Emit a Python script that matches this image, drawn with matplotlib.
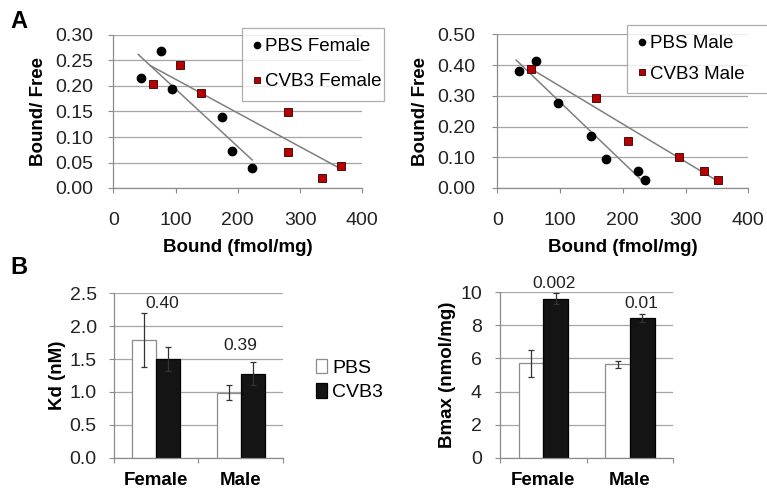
import numpy as np
import matplotlib
matplotlib.use("Agg")
import matplotlib.pyplot as plt

plt.rcParams['font.family'] = ['Liberation Sans', 'DejaVu Sans']

# Scatchard data
pbs_f_x = [44, 77, 95, 175, 191, 223]
pbs_f_y = [0.216, 0.269, 0.195, 0.140, 0.073, 0.040]
cvb3_f_x = [63, 107, 141, 281, 281, 336, 365]
cvb3_f_y = [0.203, 0.242, 0.187, 0.149, 0.070, 0.020, 0.043]
pbs_m_x = [34, 61, 97, 150, 174, 225, 235]
pbs_m_y = [0.380, 0.414, 0.278, 0.168, 0.095, 0.056, 0.026]
cvb3_m_x = [54, 158, 208, 289, 330, 352]
cvb3_m_y = [0.388, 0.292, 0.152, 0.101, 0.054, 0.027]

# bar data
groups = ['Female', 'Male']
kd_pbs = [1.79, 0.99]
kd_pbs_err = [0.41, 0.11]
kd_cvb3 = [1.50, 1.28]
kd_cvb3_err = [0.18, 0.17]
bmax_pbs = [5.70, 5.65]
bmax_pbs_err = [0.80, 0.22]
bmax_cvb3 = [9.62, 8.43]
bmax_cvb3_err = [0.32, 0.24]
kd_p = ['0.40', '0.39']
bmax_p = ['0.002', '0.01']

W, H = 767, 491
fig = plt.figure(figsize=(W / 100, H / 100), dpi=100)
fig.patch.set_facecolor('white')

GRID = '#a6a6a6'
AXC = '#8c8c8c'
RED = '#b80000'


def px_axes(l, t, r, b):
    return fig.add_axes([l / W, 1 - b / H, (r - l) / W, (b - t) / H])


def style(ax):
    for s in ['top', 'right']:
        ax.spines[s].set_visible(False)
    for s in ['left', 'bottom']:
        ax.spines[s].set_color(AXC)
        ax.spines[s].set_linewidth(0.9)
    ax.yaxis.grid(True, color=GRID, lw=0.9)
    ax.set_axisbelow(True)
    ax.tick_params(colors=AXC, labelcolor='#222222', labelsize=14, length=3.6)


def fit_line(ax, x, y):
    x = np.asarray(x, float)
    k, b = np.polyfit(x, y, 1)
    xx = np.array([x.min() - 4, x.max()])
    ax.plot(xx, k * xx + b, color='#7f7f7f', lw=1.1, zorder=2)


def scatter_panel(ax, px, py, cx, cy, ymax, ystep, labels, leg_box, spacing):
    style(ax)
    fit_line(ax, px, py)
    fit_line(ax, cx, cy)
    ax.plot(px, py, 'o', color='black', ms=6, zorder=3, label=labels[0])
    ax.plot(cx, cy, 's', color=RED, mec='#300000', mew=0.6, ms=6, zorder=3, label=labels[1])
    ax.set_xlim(0, 400)
    ax.set_ylim(0, ymax)
    ax.set_xticks(range(0, 401, 100))
    ax.set_yticks(np.round(np.arange(0, ymax + 1e-9, ystep), 2))
    ax.yaxis.set_major_formatter(plt.FormatStrFormatter('%.2f'))
    ax.tick_params(axis='x', pad=14)
    ax.tick_params(axis='y', pad=10.5)
    ax.set_xlabel('Bound (fmol/mg)', fontsize=13.5, fontweight='bold', labelpad=7)
    ax.set_ylabel('Bound/ Free', fontsize=13.5, fontweight='bold', labelpad=6)
    l, t, r, b = leg_box
    leg = ax.legend(loc='upper left', bbox_to_anchor=(l / W, 1 - t / H, (r - l) / W, 0),
                    bbox_transform=fig.transFigure, mode='expand', fontsize=13.5,
                    frameon=True, fancybox=False, borderaxespad=0, handlelength=0.5,
                    handletextpad=0.2, labelspacing=spacing, borderpad=0.55,
                    markerscale=0.75)
    leg.get_frame().set_edgecolor('#9a9a9a')
    leg.get_frame().set_linewidth(0.9)


def bar_panel(ax, pbs, pbs_err, cvb, cvb_err, pvals, ymax, ystep, fmt, ylabel, ptext_y, ptext_dx):
    style(ax)
    x = np.arange(len(groups))
    w = 0.286
    ax.bar(x - w / 2, pbs, w, color='white', edgecolor='#8c8c8c', lw=0.9, zorder=2, label='PBS')
    ax.bar(x + w / 2, cvb, w, color='#141414', edgecolor='black', lw=0.9, zorder=2, label='CVB3')
    ax.errorbar(x - w / 2, pbs, yerr=pbs_err, fmt='none', ecolor='#333333', elinewidth=0.9,
                capsize=2.2, capthick=0.9, zorder=3)
    ax.errorbar(x + w / 2, cvb, yerr=cvb_err, fmt='none', ecolor='#333333', elinewidth=0.9,
                capsize=2.2, capthick=0.9, zorder=3)
    for i, p in enumerate(pvals):
        ax.text(x[i] + ptext_dx[i], ptext_y[i], p, ha='center', va='center', fontsize=12.5,
                color='#222222')
    ax.set_xlim(-0.5, len(groups) - 0.5)
    ax.set_ylim(0, ymax)
    ax.set_yticks(np.arange(0, ymax + 1e-9, ystep))
    ax.yaxis.set_major_formatter(plt.FormatStrFormatter(fmt))
    ax.set_xticks(np.arange(-0.5, len(groups)), labels=[''] * (len(groups) + 1))
    ax.set_xticks(x, labels=groups, minor=True)
    ax.tick_params(axis='x', which='minor', length=0, pad=10.5, labelsize=13.5)
    for lab in ax.get_xticklabels(minor=True):
        lab.set_fontweight('bold')
    ax.tick_params(axis='y', pad=9)
    ax.set_ylabel(ylabel, fontsize=13.5, fontweight='bold', labelpad=3)


ax1 = px_axes(113.3, 35, 362.3, 188)
scatter_panel(ax1, pbs_f_x, pbs_f_y, cvb3_f_x, cvb3_f_y, 0.30, 0.05,
              ['PBS Female', 'CVB3 Female'], (242, 28, 384, 96), 0.95)

ax2 = px_axes(497.3, 34.3, 748.3, 188)
scatter_panel(ax2, pbs_m_x, pbs_m_y, cvb3_m_x, cvb3_m_y, 0.50, 0.10,
              ['PBS Male', 'CVB3 Male'], (627, 25, 770, 85), 0.7)
ax2.tick_params(axis='y', pad=12)

ax3 = px_axes(114.3, 293.3, 282.7, 457.7)
bar_panel(ax3, kd_pbs, kd_pbs_err, kd_cvb3, kd_cvb3_err, kd_p, 2.5, 0.5, '%.1f',
          'Kd (nM)', [2.35, 1.70], [0.07, 0.0])

ax4 = px_axes(500, 292.3, 673.3, 457.7)
bar_panel(ax4, bmax_pbs, bmax_pbs_err, bmax_cvb3, bmax_cvb3_err, bmax_p, 10, 2, '%d',
          'Bmax (nmol/mg)', [10.55, 9.33], [0.12, 0.13])
ax4.tick_params(axis='y', pad=9.5)

# legend shared by the bar charts
h, l = ax3.get_legend_handles_labels()
fig.legend(h, l, loc='center left', bbox_to_anchor=(298 / W, 1 - 380 / H), frameon=False,
           fontsize=14, handlelength=0.6, handleheight=0.75, handletextpad=0.25,
           labelspacing=0.35)

fig.text(10 / W, 1 - 22 / H, 'A', fontsize=17, fontweight='bold', va='center')
fig.text(10 / W, 1 - 268 / H, 'B', fontsize=17, fontweight='bold', va='center')

fig.savefig('out.png', dpi=100, facecolor='white')
